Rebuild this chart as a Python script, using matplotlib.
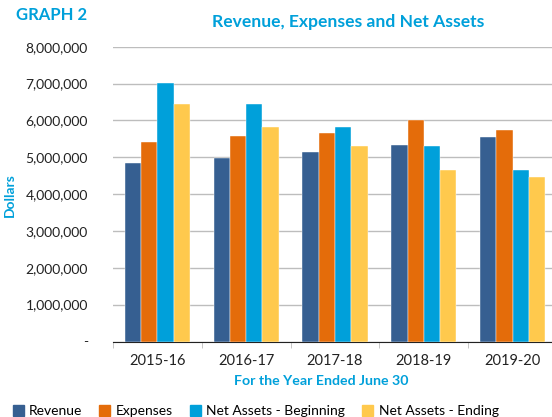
import numpy as np
import matplotlib.pyplot as plt
from matplotlib.patches import Patch
from matplotlib.ticker import FuncFormatter

years = ['2015-16', '2016-17', '2017-18', '2018-19', '2019-20']
revenue = [4.84e6, 4.97e6, 5.13e6, 5.34e6, 5.55e6]
expenses = [5.41e6, 5.58e6, 5.66e6, 6.02e6, 5.73e6]
assets_begin = [7.02e6, 6.45e6, 5.83e6, 5.31e6, 4.65e6]
assets_end = [6.45e6, 5.82e6, 5.31e6, 4.65e6, 4.46e6]

series = [('Revenue', revenue, '#365F91'),
          ('Expenses', expenses, '#E46C0A'),
          ('Net Assets - Beginning', assets_begin, '#00A0DA'),
          ('Net Assets - Ending', assets_end, '#FFC94D')]

blue_txt = '#00A0DA'
plt.rcParams['font.family'] = ['Lato', 'DejaVu Sans']

fig = plt.figure(figsize=(5.52, 4.17), dpi=100)
ax = fig.add_axes([113 / 552, 1 - 341.5 / 417, 444 / 552, (341.5 - 46.7) / 417])

x = np.arange(len(years))
w = 0.183
for i, (name, vals, col) in enumerate(series):
    ax.bar(x + (i - 1.5) * w, vals, w, color=col, label=name,
           edgecolor='white', linewidth=0.3, zorder=3)

ax.set_xlim(-0.5, len(years) - 0.5)
ax.set_ylim(0, 8e6)
ax.set_yticks(np.arange(0, 8.5e6, 1e6))
ax.yaxis.set_major_formatter(FuncFormatter(lambda v, p: '-' if v == 0 else f'{v:,.0f}'))
ax.grid(axis='y', color='#BDBDBD', linewidth=1, zorder=0)
ax.set_xticks(x)
ax.set_xticklabels(years)
ax.set_xticks(np.arange(-0.5, len(years), 1), minor=True)
ax.tick_params(axis='x', which='major', length=0, pad=9, labelsize=10.5, colors='#222222')
ax.tick_params(axis='x', which='minor', length=4, color='#BDBDBD')
ax.tick_params(axis='y', length=0, pad=18, labelsize=10, colors='#222222')
for s in ['top', 'right', 'left']:
    ax.spines[s].set_visible(False)
ax.spines['bottom'].set_color('#222222')

fig.text(16 / 552, 1 - 15 / 417, 'GRAPH 2', color=blue_txt, fontsize=12,
         fontweight='bold', va='center', ha='left')
fig.text(348 / 552, 1 - 22 / 417, 'Revenue, Expenses and Net Assets', color=blue_txt,
         fontsize=12.6, fontweight='bold', va='center', ha='center')
fig.text(321 / 552, 1 - 381 / 417, 'For the Year Ended June 30', color=blue_txt,
         fontsize=10.2, fontweight='bold', va='center', ha='center')
fig.text(10 / 552, 1 - 195 / 417, 'Dollars', color=blue_txt, fontsize=10,
         fontweight='bold', va='center', ha='center', rotation=90)

handles = [Patch(color=c, label=n) for n, _, c in series]
fig.legend(handles=handles, loc='center left', bbox_to_anchor=(7 / 552, 1 - 411 / 417),
           ncol=4, frameon=False, fontsize=10, handlelength=0.8, handleheight=0.8,
           handletextpad=0.4, columnspacing=1.2, borderaxespad=0)

fig.savefig('out.png', dpi=100)
